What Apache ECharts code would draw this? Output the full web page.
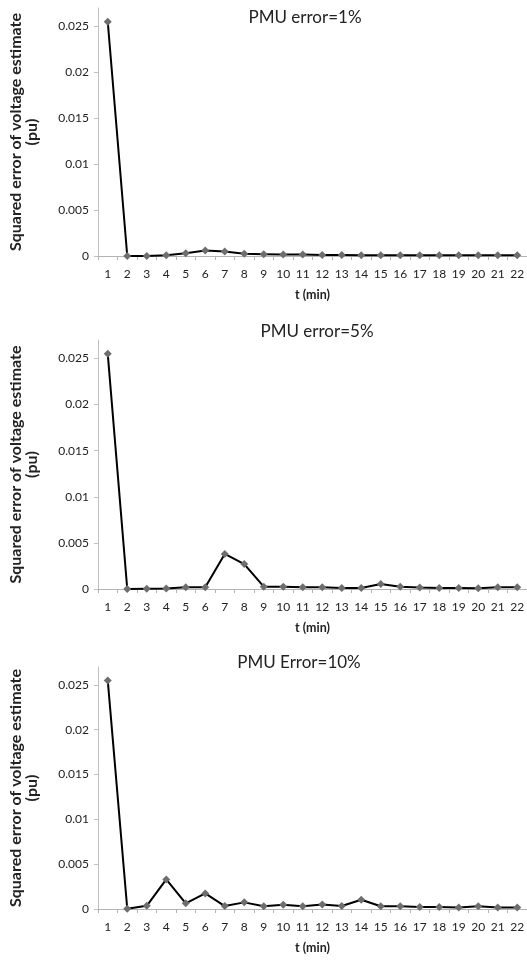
<!DOCTYPE html>
<html>
<head>
<meta charset="utf-8">
<script src="https://cdn.jsdelivr.net/npm/echarts@6/dist/echarts.min.js"></script>
<style>
html,body{margin:0;padding:0;background:#fff;}
#c{width:527px;height:961px;}
</style>
</head>
<body>
<div id="c"></div>
<script>
// ---- data ----
const tMin = ['1','2','3','4','5','6','7','8','9','10','11','12','13','14','15','16','17','18','19','20','21','22'];
const err1 = [0.0255,0,0,0.00007,0.0003,0.0006,0.0005,0.00025,0.0002,0.00015,0.00015,0.0001,0.0001,0.00008,0.00008,0.00008,0.00008,0.00008,0.00008,0.00008,0.00008,0.00008];
const err5 = [0.0255,0,0.00003,0.00005,0.0002,0.0002,0.0038,0.0027,0.00025,0.00025,0.0002,0.0002,0.0001,0.0001,0.00055,0.00025,0.00015,0.0001,0.0001,0.00008,0.0002,0.0002];
const err10 = [0.0255,0.00003,0.00035,0.0033,0.00063,0.00174,0.00033,0.00074,0.0003,0.00048,0.0003,0.0005,0.00033,0.00104,0.0003,0.0003,0.00022,0.00022,0.00018,0.0003,0.00018,0.00018];
const yTicks = [0,0.005,0.01,0.015,0.02,0.025];
const titles = ['PMU error=1%','PMU error=5%','PMU Error=10%'];
const xName = 't (min)';
const yName = 'Squared error of voltage estimate\n(pu)';

// ---- layout ----
const panels = [
  {data: err1, left: 95, top: 8, height: 248, titleX: 300, titleY: 14},
  {data: err5, left: 93, top: 340, height: 249, titleX: 312, titleY: 328},
  {data: err10, left: 93, top: 667, height: 242, titleX: 294, titleY: 659}
];
const FONT = 'Lato, "Open Sans", sans-serif';
const chart = echarts.init(document.getElementById('c'), null, {renderer: 'canvas'});

const option = {
  backgroundColor: '#fff',
  animation: false,
  title: panels.map((p, i) => ({
    text: titles[i],
    left: p.titleX, top: p.titleY - 10,
    textAlign: 'center',
    textStyle: {fontFamily: FONT, fontSize: 17, fontWeight: 'normal', color: '#222'}
  })),
  grid: panels.map(p => ({left: p.left, top: p.top, width: 440, height: p.height, containLabel: false})),
  xAxis: panels.map((p, i) => ({
    type: 'category', gridIndex: i, data: tMin, boundaryGap: true,
    name: xName, nameLocation: 'middle', nameGap: 32,
    nameTextStyle: {fontFamily: FONT, fontSize: 12.5, fontWeight: 'bold', color: '#222'},
    axisLine: {lineStyle: {color: '#b3b3b3', width: 1}},
    axisTick: {show: true, inside: false, length: 4, alignWithLabel: false, lineStyle: {color: '#b3b3b3'}},
    axisLabel: {fontFamily: FONT, fontSize: 12, color: '#222', margin: 12, interval: 0},
    splitLine: {show: false}
  })),
  yAxis: panels.map((p, i) => ({
    type: 'value', gridIndex: i, min: 0, max: 0.027,
    name: yName, nameLocation: 'middle', nameGap: 58,
    nameTextStyle: {fontFamily: FONT, fontSize: 16, fontWeight: 'bold', color: '#222', lineHeight: 16},
    axisLine: {show: true, lineStyle: {color: '#bfbfbf', width: 1}},
    axisTick: {show: true, length: 4, lineStyle: {color: '#bfbfbf'}, customValues: yTicks},
    axisLabel: {fontFamily: FONT, fontSize: 12, color: '#222', margin: 9, customValues: yTicks,
      formatter: v => String(+v.toFixed(3))},
    splitLine: {show: false}
  })),
  series: panels.map((p, i) => ({
    type: 'line', xAxisIndex: i, yAxisIndex: i, data: p.data,
    symbol: 'diamond', symbolSize: 8, showSymbol: true,
    lineStyle: {color: '#000', width: 2},
    itemStyle: {color: '#6e6e6e'},
    z: 3
  }))
};
chart.setOption(option);
</script>
</body>
</html>
